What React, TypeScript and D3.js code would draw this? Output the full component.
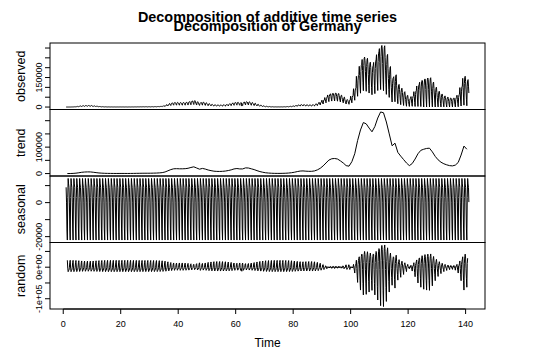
import React, { useMemo } from "react";
import * as d3 from "d3";

// weekly level of the series (centred 7-day moving average), one value per week from time 1
const trendWeekly = [
  100, 200, 600, 1500, 3000, 4800, 5800, 6300, 6200, 5000,
  3600, 2300, 1500, 1000, 700, 550, 450, 400, 450, 500,
  450, 400, 500, 650, 850, 1000, 1200, 1300, 1250, 1350,
  1600, 1900, 2500, 3600, 6000, 10500, 15000, 18000, 18500, 18000,
  18000, 18500, 20000, 23000, 25500, 21000, 16500, 19500, 17000, 13500,
  11000, 9000, 8200, 8000, 8500, 9500, 11500, 14000, 17500, 19000,
  17500, 17500, 21500, 21000, 18000, 15000, 11000, 7500, 5000, 3000,
  2000, 1200, 800, 700, 700, 900, 1300, 2000, 3200, 5000,
  7500, 9500, 10000, 9000, 8500, 8500, 10000, 14000, 20000, 29000,
  40000, 51000, 56000, 57000, 55000, 48000, 40000, 30000, 28000, 45000,
  75000, 125000, 165000, 193000, 188000, 172000, 158000, 178000, 210000, 233000,
  230000, 195000, 150000, 105000, 115000, 80000, 66000, 53000, 40000, 30000,
  38000, 55000, 75000, 88000, 92000, 95000, 96000, 82000, 65000, 52000,
  43000, 37000, 33000, 30000, 29000, 32000, 42000, 70000, 104000, 92000,
  75000,
];

// size of the within-week swing of the daily counts, per week
const swingWeekly = [
  50, 100, 300, 700, 1500, 2400, 2900, 3100, 3100, 2500,
  1800, 1200, 800, 500, 350, 300, 250, 200, 250, 250,
  250, 200, 250, 350, 450, 500, 600, 700, 650, 700,
  800, 1000, 1300, 1900, 3200, 5500, 8000, 9500, 10000, 9500,
  9500, 10000, 11000, 12500, 14000, 12000, 9000, 11000, 9500, 7500,
  6000, 5000, 4500, 4400, 4700, 5200, 6300, 7700, 9600, 10500,
  9500, 9800, 11800, 11500, 9900, 8200, 6000, 4100, 2700, 1600,
  1100, 700, 450, 400, 400, 500, 700, 1100, 1700, 2700,
  4000, 5000, 5300, 4800, 4500, 4500, 5300, 7400, 10500, 15000,
  20500, 26000, 28500, 29000, 28000, 24500, 20500, 16000, 15500, 26000,
  45000, 78000, 105000, 122000, 120000, 112000, 106000, 122000, 140000, 160000,
  163000, 145000, 112000, 88000, 98000, 70000, 60000, 50000, 40000, 30000,
  38000, 58000, 80000, 95000, 102000, 105000, 106000, 90000, 72000, 57000,
  47000, 40000, 36000, 33000, 32000, 35000, 45000, 72000, 105000, 95000,
  78000,
];

// weekday profile of reported counts (relative to the weekly swing)
const weekdayShape = [0.4, -0.05, -0.55, -0.9, 0.15, 0.45, 0.5];

// seasonal figure, repeated every 7 days
const seasonalFigure = [9000, 300, -15500, -22000, 3000, 14200, 11000];

// one-off reporting dips: [day index, change]
const reportingGlitches: [number, number][] = [[428, -12000]];

const N_DAYS = 982;
const FREQ = 7;

const timeTicks = [0, 20, 40, 60, 80, 100, 120, 140];
const panelNames = ["observed", "trend", "seasonal", "random"];

const W = 544;
const H = 352;
const X0 = 50;
const X1 = 485;
const TOP = 43;
const PANEL_H = 66.5;
const FONT = "'Liberation Sans', Arial, Helvetica, sans-serif";

type Pt = { t: number; v: number };

function fmtPlain(v: number) {
  return String(Math.round(v));
}

function fmtSci(v: number) {
  if (v === 0) return "0e+00";
  const e = Math.floor(Math.log10(Math.abs(v)));
  const m = Math.round(v / Math.pow(10, e));
  const es = (e < 0 ? "-" : "+") + String(Math.abs(e)).padStart(2, "0");
  return `${m}e${es}`;
}

// pad range by 4% each side like R's default axis style
function padded(lo: number, hi: number): [number, number] {
  const p = (hi - lo) * 0.04;
  return [lo - p, hi + p];
}

export default function App() {
  const series = useMemo(() => {
    const glitch = new Map(reportingGlitches);
    const observed: Pt[] = [];
    const seasonal: Pt[] = [];
    const random: Pt[] = [];
    for (let d = 0; d < N_DAYS; d++) {
      const w = Math.floor(d / FREQ);
      const i = d % FREQ;
      const t = 1 + d / FREQ;
      const obs = trendWeekly[w] + swingWeekly[w] * weekdayShape[i] + (glitch.get(d) ?? 0);
      observed.push({ t, v: obs });
      seasonal.push({ t, v: seasonalFigure[i] });
      if (d >= 3 && d < N_DAYS - 3) {
        random.push({ t, v: obs - trendWeekly[w] - seasonalFigure[i] });
      }
    }
    const lastCentre = N_DAYS - 4;
    const trend: Pt[] = trendWeekly
      .map((v, w) => ({ t: 1 + w + 3 / FREQ, v, c: w * FREQ + 3 }))
      .filter((p) => p.c <= lastCentre)
      .map(({ t, v }) => ({ t, v }));
    return [observed, trend, seasonal, random];
  }, []);

  const tEnd = 1 + (N_DAYS - 1) / FREQ;
  const x = d3.scaleLinear().domain(padded(1, tEnd)).range([X0, X1]);

  const panels = series.map((data, k) => {
    const top = TOP + k * PANEL_H;
    const bottom = top + PANEL_H;
    const [lo, hi] = d3.extent(data, (p) => p.v) as [number, number];
    const y = d3.scaleLinear().domain(padded(lo, hi)).range([bottom, top]);
    const fmt = k === 3 ? fmtSci : fmtPlain;
    // R skips tick labels that would collide with the previous one
    const labels: { v: number; y: number; s: string }[] = [];
    let lastTop = Infinity;
    y.ticks(5).forEach((v) => {
      const s = fmt(v);
      const half = (s.length * 0.54 * 9) / 2;
      const py = y(v);
      if (py + half <= lastTop - 3) {
        labels.push({ v, y: py, s });
        lastTop = py - half;
      }
    });
    const line = d3
      .line<Pt>()
      .x((p) => x(p.t))
      .y((p) => y(p.v));
    return { k, top, bottom, y, ticks: y.ticks(5), labels, path: line(data) ?? "" };
  });

  const bottom = TOP + 4 * PANEL_H;

  return (
    <svg
      width={W}
      height={H}
      style={{ position: "absolute", left: 0, top: 0, background: "#fff" }}
      fontFamily={FONT}
    >
      <rect width={W} height={H} fill="#fff" />
      <text x={(X0 + X1) / 2} y={22} textAnchor="middle" fontSize={14.4} fontWeight="bold">
        Decomposition of additive time series
      </text>
      <text x={(X0 + X1) / 2} y={31} textAnchor="middle" fontSize={14.4} fontWeight="bold">
        Decomposition of Germany
      </text>

      {panels.map((p) => (
        <g key={p.k}>
          <path d={p.path} fill="none" stroke="#000" strokeWidth={1} strokeLinejoin="round" />
          <rect
            x={X0}
            y={p.top}
            width={X1 - X0}
            height={PANEL_H}
            fill="none"
            stroke="#000"
            strokeWidth={1}
          />
          {p.ticks.map((v) => (
            <line key={v} x1={X0 - 5} x2={X0} y1={p.y(v)} y2={p.y(v)} stroke="#000" />
          ))}
          {p.labels.map((l) => (
            <text
              key={l.v}
              transform={`translate(42,${l.y}) rotate(-90)`}
              textAnchor="middle"
              fontSize={9}
            >
              {l.s}
            </text>
          ))}
          <text
            transform={`translate(24.5,${p.top + PANEL_H / 2}) rotate(-90)`}
            textAnchor="middle"
            fontSize={12.5}
          >
            {panelNames[p.k]}
          </text>
        </g>
      ))}

      <line x1={x(timeTicks[0])} x2={x(timeTicks[timeTicks.length - 1])} y1={bottom} y2={bottom} stroke="#000" />
      {timeTicks.map((t) => (
        <g key={t}>
          <line x1={x(t)} x2={x(t)} y1={bottom} y2={bottom + 5} stroke="#000" />
          <text x={x(t)} y={bottom + 18} textAnchor="middle" fontSize={9}>
            {t}
          </text>
        </g>
      ))}
      <text x={(X0 + X1) / 2} y={347} textAnchor="middle" fontSize={12}>
        Time
      </text>
    </svg>
  );
}
